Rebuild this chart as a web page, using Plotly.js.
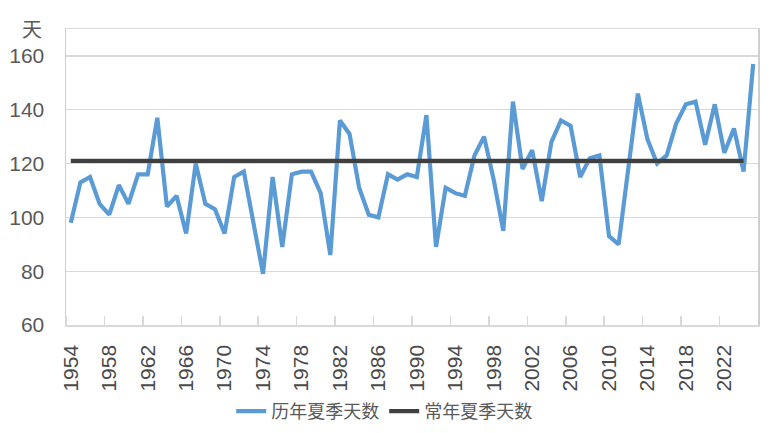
<!DOCTYPE html>
<html>
<head>
<meta charset="utf-8">
<script src="https://cdn.plot.ly/plotly-3.0.1.min.js"></script>
<style>
  html, body { margin: 0; padding: 0; background: #ffffff; }
  #chart { width: 773px; height: 433px; }
</style>
</head>
<body>
<div id="chart"></div>
<script>
// ---- data ----
const years = [1954,1955,1956,1957,1958,1959,1960,1961,1962,1963,1964,1965,1966,1967,1968,1969,
  1970,1971,1972,1973,1974,1975,1976,1977,1978,1979,1980,1981,1982,1983,1984,1985,1986,1987,1988,1989,
  1990,1991,1992,1993,1994,1995,1996,1997,1998,1999,2000,2001,2002,2003,2004,2005,2006,2007,2008,2009,
  2010,2011,2012,2013,2014,2015,2016,2017,2018,2019,2020,2021,2022,2023,2024,2025];

const summerDays = [98,113,115,105,101,112,105,116,116,137,104,108,94,120,105,103,
  94,115,117,98,79,115,89,116,117,117,109,86,136,131,111,101,100,116,114,116,
  115,138,89,111,109,108,123,130,114,95,143,118,125,106,128,136,134,115,122,123,
  93,90,118,146,129,120,123,135,142,143,127,142,124,133,117,157];

const normalYears = [1954,1955,1956,1957,1958,1959,1960,1961,1962,1963,1964,1965,1966,1967,1968,1969,
  1970,1971,1972,1973,1974,1975,1976,1977,1978,1979,1980,1981,1982,1983,1984,1985,1986,1987,1988,1989,
  1990,1991,1992,1993,1994,1995,1996,1997,1998,1999,2000,2001,2002,2003,2004,2005,2006,2007,2008,2009,
  2010,2011,2012,2013,2014,2015,2016,2017,2018,2019,2020,2021,2022,2023,2024];

const normalDays = [121,121,121,121,121,121,121,121,121,121,121,121,121,121,121,121,
  121,121,121,121,121,121,121,121,121,121,121,121,121,121,121,121,121,121,121,121,
  121,121,121,121,121,121,121,121,121,121,121,121,121,121,121,121,121,121,121,121,
  121,121,121,121,121,121,121,121,121,121,121,121,121,121,121];

const xTickYears = [1954,1958,1962,1966,1970,1974,1978,1982,1986,1990,1994,1998,2002,2006,2010,2014,2018,2022];
const yTicks = [60,80,100,120,140,160];

const seriesNames = ['历年夏季天数', '常年夏季天数'];
const yUnit = '天';

// ---- chart ----
const cjk = '"Noto Sans CJK SC", "Noto Sans", sans-serif';
const num = '"Liberation Sans", Arial, sans-serif';
const grey = '#595959';
const lineGrey = '#d9d9d9';

const traces = [
  {
    x: years, y: summerDays, name: seriesNames[0], type: 'scatter', mode: 'lines',
    line: { color: '#5b9bd5', width: 4.2 }
  },
  {
    x: normalYears, y: normalDays, name: seriesNames[1], type: 'scatter', mode: 'lines',
    line: { color: '#404040', width: 4.2 }
  }
];

const layout = {
  width: 773, height: 433,
  margin: { l: 66, r: 15, t: 29, b: 108 },
  paper_bgcolor: '#ffffff', plot_bgcolor: '#ffffff',
  showlegend: true,
  legend: {
    orientation: 'h', xref: 'container', yref: 'container',
    x: 0.497, xanchor: 'center', y: 0.05, yanchor: 'middle',
    font: { family: cjk, size: 18, color: grey },
    itemwidth: 30, tracegroupgap: 0
  },
  xaxis: {
    type: 'linear', range: [1953.5, 2025.5], fixedrange: true,
    tickmode: 'array', tickvals: xTickYears, ticktext: xTickYears.map(String),
    tickangle: -90, ticks: '', ticklabelstandoff: 10,
    tickfont: { family: num, size: 21, color: '#4a4a4a' },
    showgrid: false, zeroline: false,
    showline: true, linecolor: lineGrey, linewidth: 1.5, mirror: true,
    minor: {
      tickmode: 'array', tickvals: xTickYears.map(function (v) { return v - 0.5; }),
      ticks: 'inside', ticklen: 9, tickcolor: lineGrey, tickwidth: 1.5, showgrid: false
    }
  },
  yaxis: {
    range: [60, 170], fixedrange: true,
    tickmode: 'array', tickvals: yTicks, ticktext: yTicks.map(String),
    ticks: '', ticklabelstandoff: 16,
    tickfont: { family: num, size: 21, color: grey },
    showgrid: true, gridcolor: lineGrey, gridwidth: 1.3, zeroline: false,
    showline: true, linecolor: '#cfcfcf', linewidth: 1.5, mirror: true
  },
  annotations: [
    {
      text: yUnit, xref: 'paper', yref: 'paper', x: 0, y: 1,
      xshift: -22, yshift: 1, xanchor: 'right', yanchor: 'middle',
      showarrow: false, font: { family: cjk, size: 20, color: grey }
    }
  ]
};

Plotly.newPlot('chart', traces, layout, { staticPlot: true, displayModeBar: false });
</script>
</body>
</html>
